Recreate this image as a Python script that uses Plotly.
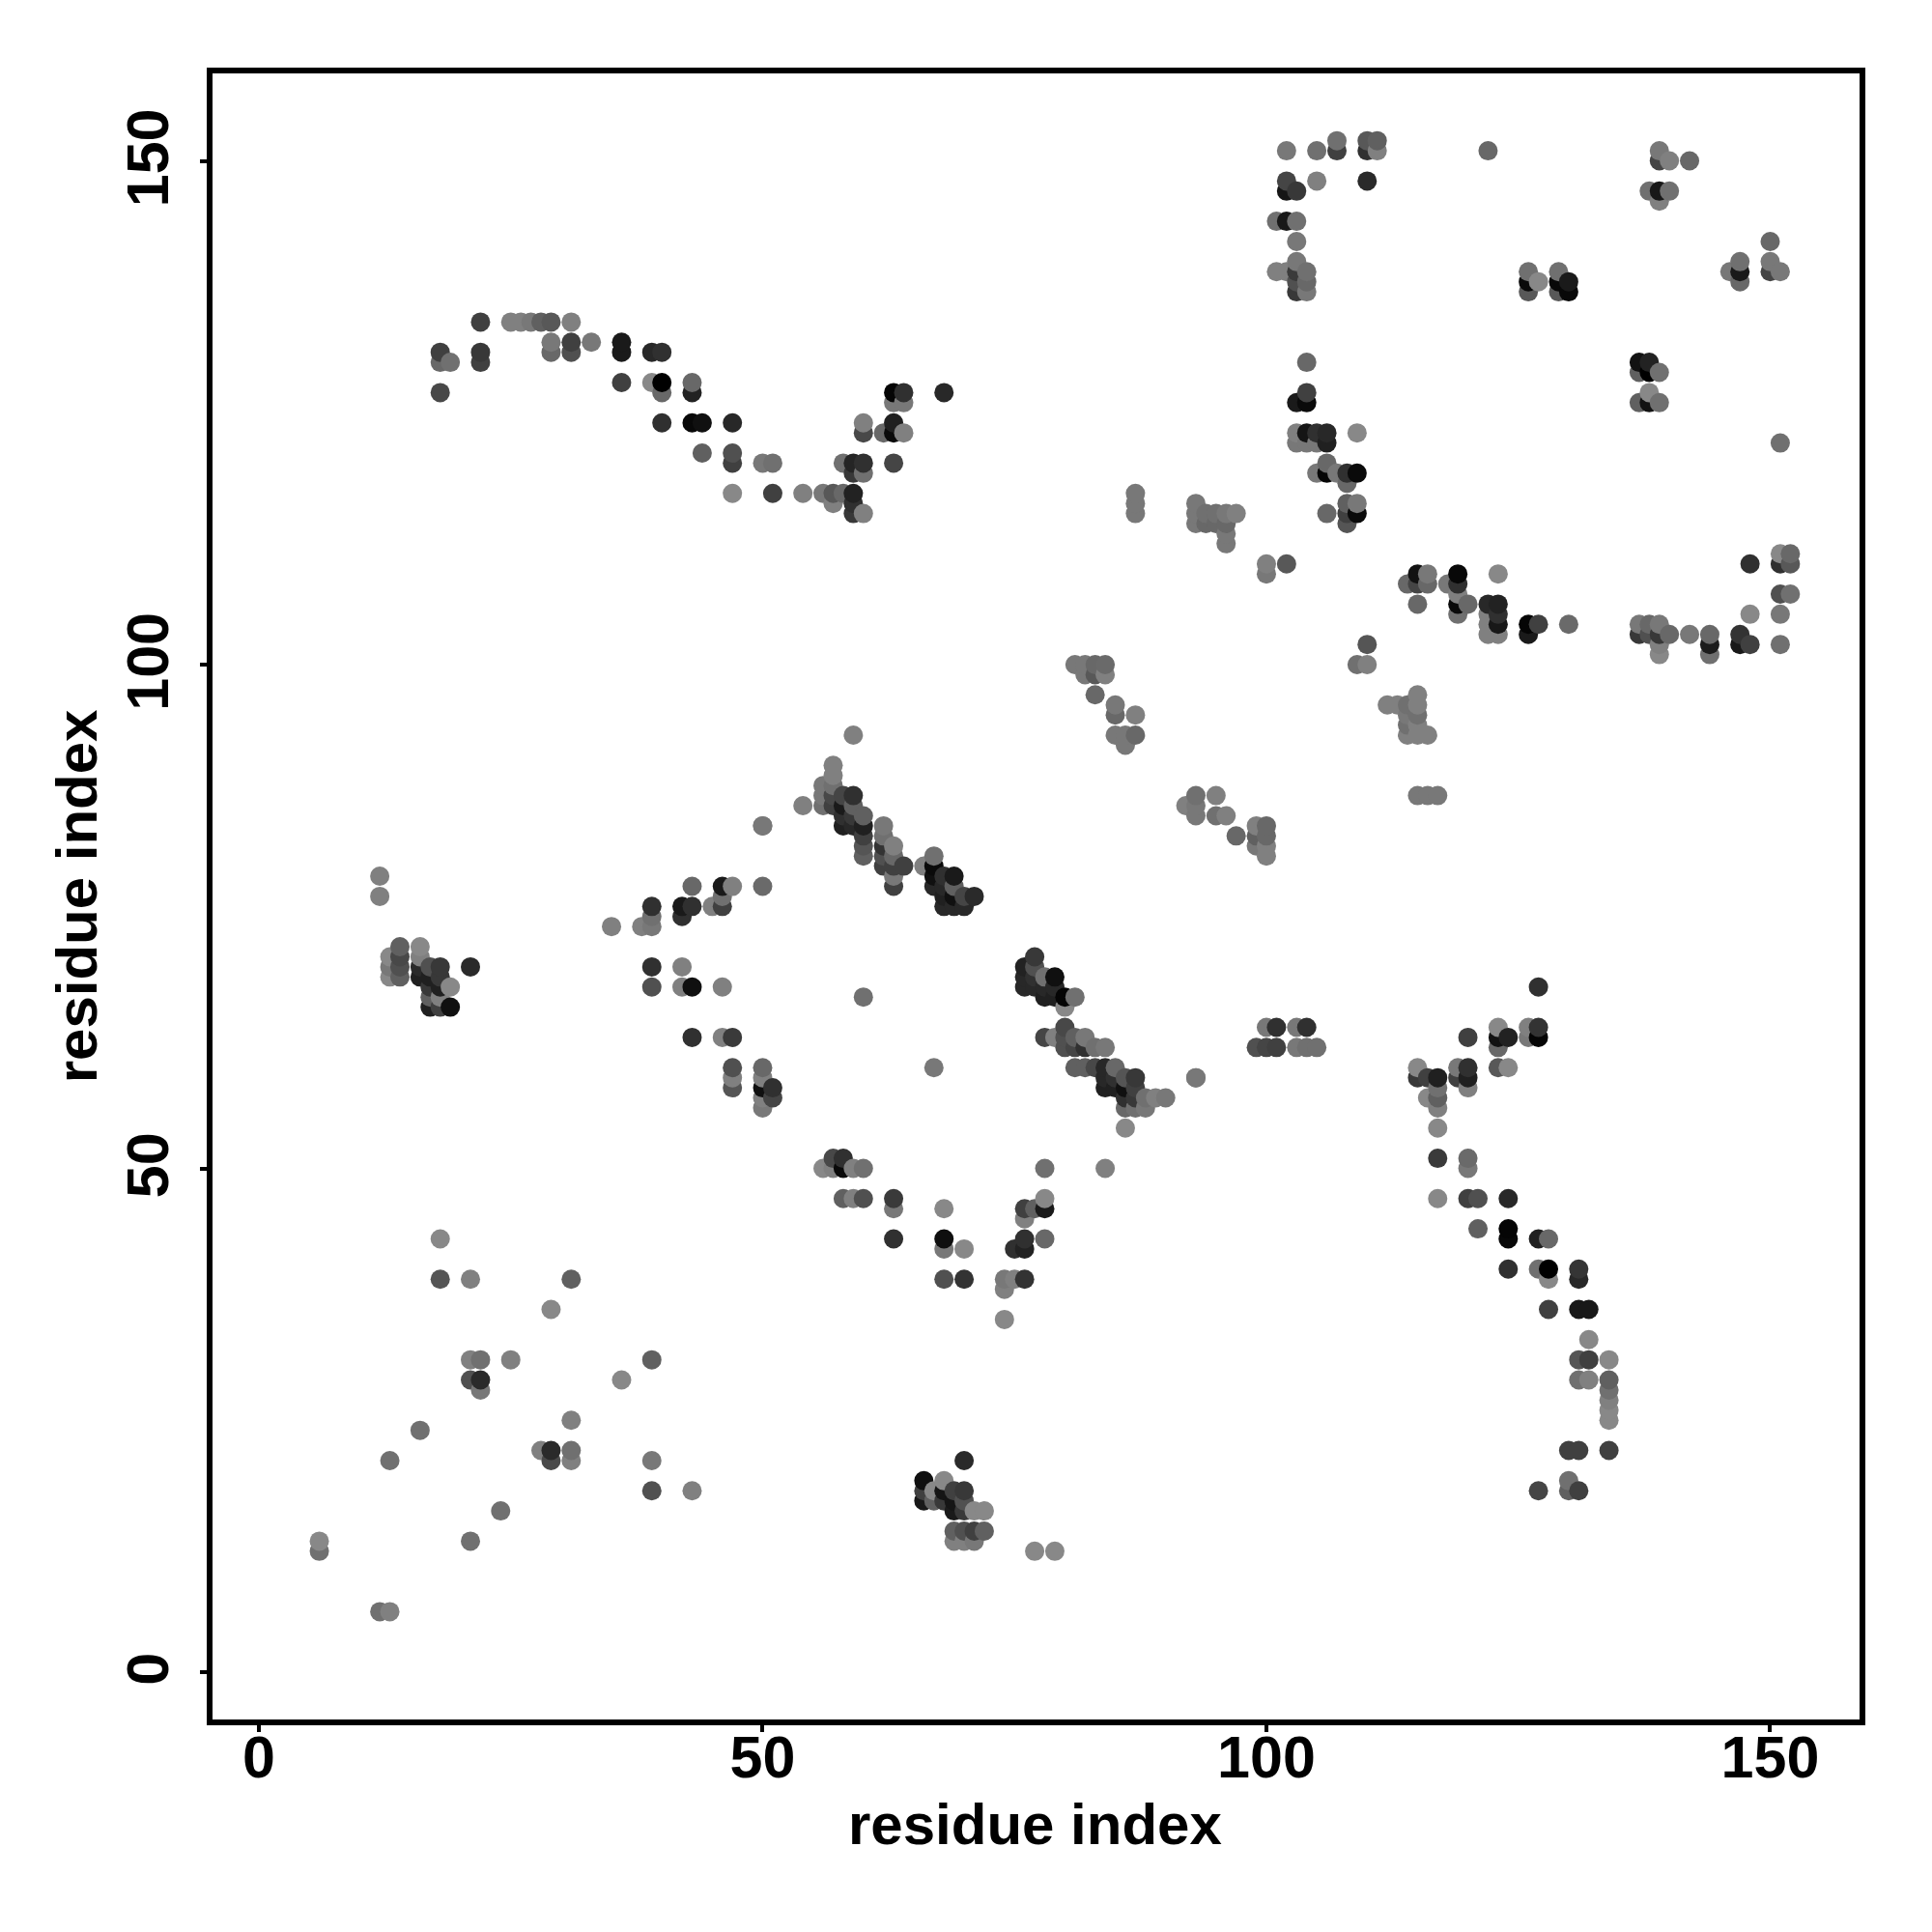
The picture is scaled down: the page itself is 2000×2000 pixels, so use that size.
import plotly.graph_objects as go

# residue pairs in contact, grouped by region of the map; the three lists run in parallel
residue_x = [
 18,18,21,31,29,21,22,25,39,21,22,22,36,31,16,28,29,31,29,31,13,39,39,43,24,21,6,6,12,13,
 67,86,78,84,56,57,58,59,60,57,58,58,59,60,63,63,63,68,68,68,70,68,70,74,75,76,74,74,78,78,76,77,76,78,76,76,75,
 70,66,68,66,67,68,69,70,66,67,68,69,70,69,70,71,72,69,70,71,72,69,70,71,77,79,
 127,123,126,127,120,123,124,126,127,123,115,119,120,123,124,115,116,117,119,120,117,120,116,117,117,117,117,120,120,117,120,121,124,
 121,124,124,127,128,124,127,128,131,128,131,128,131,132,132,131,132,134,131,132,134,134,134,134,134,130,131,134,130,127,130,131,
 12,12,14,16,13,14,16,13,14,16,17,18,21,13,14,16,17,18,17,18,19,17,18,17,18,19,
 35,38,39,39,39,42,42,43,45,46,46,46,43,47,50,39,42,39,42,43,46,43,46,47,47,47,47,50,50,50,51,51,50,50,60,50,
 59,57,57,56,57,56,57,58,59,54,56,57,58,59,58,59,60,58,59,60,62,60,62,60,62,63,60,62,63,62,63,64,66,67,67,63,67,68,69,63,67,68,69,68,69,70,71,68,69,70,
 77,76,77,76,77,78,79,76,77,78,79,78,79,80,81,80,80,78,79,80,81,82,80,81,82,83,84,81,82,83,84,85,84,85,86,87,84,85,86,87,86,87,88,89,90,86,87,88,93,
 81,82,83,84,82,83,84,83,85,85,87,85,86,87,86,110,109,110,
 115,112,113,114,115,114,115,114,115,114,115,116,115,116,117,93,95,92,93,93,95,96,97,99,100,99,100,99,100,100,
 115,116,119,123,114,115,116,118,119,119,115,119,120,122,123,119,122,123,122,123,126,127,130,137,138,139,122,123,126,137,138,139,140,142,144,147,139,144,147,148,151,139,144,148,151,151,152,148,151,152,151,152,
 104,104,103,104,103,104,105,106,109,103,104,105,106,106,105,106,107,108,109,108,108,109,106,108,109,108,
 87,87,87,93,93,93,94,95,96,97,94,95,96,96,96,100,102,100,
 107,110,111,102,105,107,110,111,122,139,139,140,142,102,105,110,102,103,138,139,140,139,101,102,103,103,150,103,147,150,
 101,102,103,104,126,129,146,147,150,151,103,104,126,127,129,130,147,103,104,126,129,130,
 22,25,26,27,28,29,31,29,31,33,36,18,22,29,31,36,39,40,18,19,22,36,39,40,43,18,40,43,63,64,68,63,64,
 40,43,44,47,60,63,60,62,63,64,44,47,47,50,51,58,59,60,63,59,60,47,51,54,56,57,58,59,57,59,59,60,
 137,138,137,138,139,138,137,138,139,151,
 50,93,100,101,103,104,99,100,101,103,104,105,
]
residue_y = [
 43,39,39,39,36,31,31,31,31,29,29,28,29,25,24,22,22,22,21,21,21,21,18,18,16,13,13,12,6,6,
 60,54,50,50,50,50,50,50,50,51,51,47,47,47,47,46,43,46,43,42,42,39,39,39,39,39,38,35,47,46,46,46,45,43,43,42,42,
 21,19,19,18,18,18,18,18,17,17,17,17,17,16,16,16,16,14,14,14,14,13,13,13,12,12,
 68,64,64,64,63,63,63,63,63,62,60,60,60,60,60,59,59,59,59,59,58,58,57,57,56,54,51,51,50,47,47,47,47,
 44,44,43,43,43,40,40,40,40,39,39,36,36,36,33,31,31,31,29,29,29,28,27,26,25,22,22,22,19,18,18,18,
 79,77,72,72,71,71,71,70,70,70,70,70,70,69,69,69,69,69,68,68,68,67,67,66,66,66,
 74,74,74,75,76,75,76,76,76,76,77,78,78,78,78,70,70,68,68,68,68,63,63,63,60,59,58,60,59,58,58,57,57,56,67,84,
 93,90,89,88,88,87,87,87,87,86,86,86,86,86,85,85,85,84,84,84,84,83,83,82,82,82,81,81,81,80,80,80,80,81,80,79,79,79,79,78,78,78,78,77,77,77,77,76,76,76,
 71,70,70,69,69,69,69,68,68,68,68,67,67,67,67,66,64,63,63,63,63,63,62,62,62,62,62,60,60,60,60,60,59,59,59,59,58,58,58,58,57,57,57,57,57,56,56,56,59,
 100,100,100,100,99,99,99,97,96,95,95,93,93,93,92,102,100,100,
 97,96,96,96,96,95,95,94,94,93,93,93,87,87,87,87,87,86,86,85,85,85,83,84,84,83,83,82,82,81,
 109,109,109,109,108,108,108,108,108,107,106,106,106,106,106,105,105,105,104,104,104,104,104,104,104,104,103,103,103,103,103,103,103,103,103,103,102,102,102,102,102,101,101,105,105,107,107,110,110,110,111,111,
 130,127,126,126,123,123,123,123,123,122,122,122,122,120,119,119,119,119,119,118,116,116,115,115,115,114,
 117,116,115,116,115,114,115,115,115,115,114,114,114,113,112,110,110,109,
 152,152,152,151,151,151,151,151,151,151,150,150,150,148,148,148,147,147,147,147,147,146,144,144,144,142,142,140,140,140,
 139,139,139,139,139,139,139,139,139,139,138,138,138,138,138,138,138,137,137,137,137,137,
 134,134,134,134,134,134,134,132,132,132,132,131,131,131,131,131,131,131,130,130,130,128,128,128,128,127,127,127,127,127,127,126,126,
 124,124,124,124,124,124,123,123,123,123,121,121,120,120,120,120,120,120,120,119,119,117,117,117,117,117,117,117,116,116,115,115,
 130,130,129,129,129,127,126,126,126,122,
 84,59,64,64,64,64,62,62,62,62,62,62,
]
gray_level = [
 136,85,128,96,136,128,112,128,96,80,42,120,136,128,112,128,42,112,74,128,112,120,80,128,112,112,136,112,112,128,
 120,136,112,128,136,128,10,128,112,72,48,96,128,80,58,120,48,136,15,120,136,80,51,120,128,51,128,136,136,26,64,96,128,104,48,34,48,
 42,16,136,64,136,21,64,56,24,96,56,21,80,26,56,136,136,96,80,64,96,128,128,120,136,136,
 48,136,128,51,64,18,34,120,5,104,136,120,48,88,136,56,64,32,64,32,112,128,136,96,128,136,58,106,120,136,64,80,40,
 96,5,8,32,104,48,112,0,53,136,40,64,24,24,136,85,64,136,112,128,96,112,128,136,136,64,64,64,112,69,96,64,
 128,128,96,136,136,72,128,120,80,42,80,56,42,136,96,32,32,56,56,32,136,96,128,32,64,16,
 128,128,120,112,48,48,26,48,128,64,112,26,104,128,106,48,128,80,128,16,128,48,128,58,80,128,85,104,128,16,48,69,128,120,112,120,
 128,128,128,120,112,120,72,69,48,128,112,64,26,96,48,56,96,32,40,32,120,64,112,85,51,128,96,80,104,64,64,64,128,112,10,120,16,48,26,64,40,40,96,32,16,69,42,40,40,40,
 56,34,80,40,48,112,16,40,40,40,40,32,32,5,112,136,72,69,128,80,96,120,80,69,48,112,120,96,96,72,40,104,40,48,85,56,32,32,16,64,48,56,112,128,120,104,112,120,120,
 120,120,104,106,120,88,128,104,120,104,128,120,120,104,120,85,112,128,
 128,128,128,112,128,120,112,112,128,128,128,128,120,120,120,112,128,128,120,120,112,128,104,128,104,96,104,120,128,128,
 18,120,8,136,104,69,104,120,48,128,104,10,104,40,34,112,128,48,128,24,5,64,106,120,104,120,128,128,26,56,80,56,104,120,104,51,128,28,24,64,112,136,112,136,120,80,112,48,48,88,136,104,
 104,64,26,10,128,21,48,40,136,120,120,120,32,104,120,5,120,48,10,104,96,120,104,64,10,85,
 120,120,120,120,120,120,112,112,120,128,104,104,104,120,120,128,88,120,
 112,88,96,120,112,64,48,128,104,120,69,128,104,69,128,42,21,56,112,24,112,128,112,24,112,120,104,120,112,120,
 128,128,58,112,112,112,120,26,69,120,80,104,10,136,8,26,104,56,120,88,88,8,
 64,128,128,120,96,88,128,120,64,120,26,64,56,104,80,26,40,48,104,112,64,64,136,0,104,72,104,34,5,48,40,120,120,
 48,8,16,40,128,32,72,104,10,128,96,80,64,120,112,112,37,48,69,56,112,136,64,128,120,88,104,34,128,48,56,128,
 18,34,96,0,112,136,96,18,112,112,
 120,120,120,48,120,48,80,69,64,120,112,112,
]

order = sorted(range(len(residue_x)), key=lambda i: (residue_x[i], residue_y[i]))

tick_values = [0, 50, 100, 150]
axis_title = "residue index"
font_family = "Liberation Sans"

fig = go.Figure(go.Scatter(
    x=[residue_x[i] for i in order],
    y=[residue_y[i] for i in order],
    mode="markers",
    marker=dict(
        size=20,
        symbol="circle",
        color=[gray_level[i] for i in order],
        cmin=0,
        cmax=255,
        colorscale=[[0, "rgb(0,0,0)"], [1, "rgb(255,255,255)"]],
        showscale=False,
        line=dict(width=0),
    ),
    showlegend=False,
))

axis_style = dict(
    tickvals=tick_values,
    ticks="outside",
    ticklen=7,
    tickwidth=4,
    tickcolor="black",
    showgrid=False,
    zeroline=False,
    showline=True,
    linecolor="black",
    linewidth=6,
    mirror=True,
    tickfont=dict(family=font_family, size=61, color="black", weight="bold"),
)
title_font = dict(family=font_family, size=60, color="black", weight="bold")

fig.update_layout(
    width=2000,
    height=2000,
    autosize=False,
    margin=dict(l=220, r=75, t=76, b=220, pad=0),
    paper_bgcolor="white",
    plot_bgcolor="white",
    xaxis=dict(**axis_style, range=[-4.6, 158.87], ticklabelstandoff=-26),
    yaxis=dict(**axis_style, range=[-4.7, 158.68], tickangle=-90, ticklabelstandoff=9, ticklabelshift=6),
    annotations=[
        dict(text=axis_title, xref="paper", yref="paper", x=0.4997, y=-0.0635,
             xanchor="center", yanchor="middle", showarrow=False, font=title_font),
        dict(text=axis_title, xref="paper", yref="paper", x=-0.0822, y=0.5003, textangle=-90,
             xanchor="center", yanchor="middle", showarrow=False, font=title_font),
    ],
)

fig.write_html("out.html", config={"displayModeBar": False},
               post_script="document.body.style.margin='0';")
